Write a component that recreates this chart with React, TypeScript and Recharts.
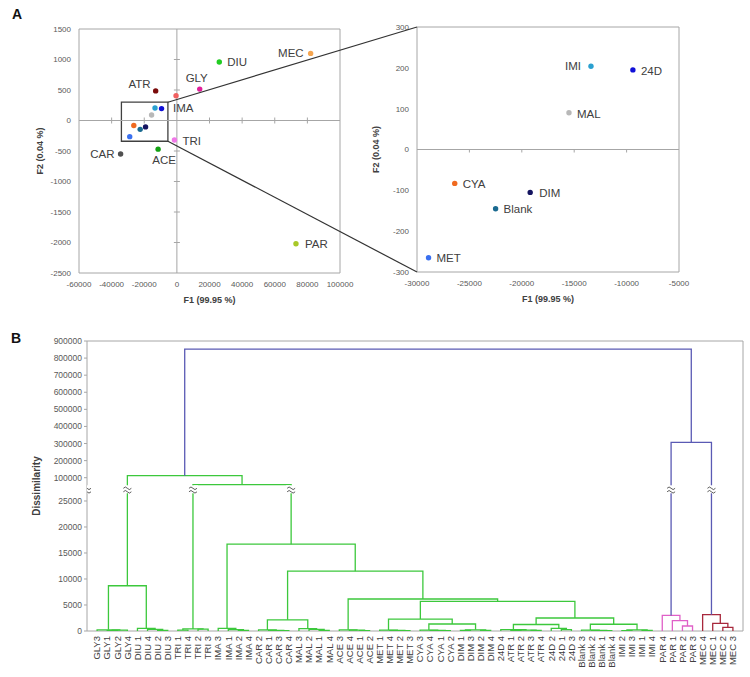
import React from 'react';
import {
  ScatterChart,
  Scatter,
  XAxis,
  YAxis,
  ReferenceLine,
  ReferenceArea,
  ComposedChart,
  Line,
} from 'recharts';

// ---------------- Panel A data ----------------
const PCA_NAMES = ['MEC', 'DIU', 'GLY', 'ATR', 'IMA', 'TRI', 'ACE', 'CAR', 'PAR', 'IMI', '24D', 'MAL', 'CYA', 'DIM', 'Blank', 'MET'];
const PCA_F1 = [82000, 26000, 14000, -13000, -500, -1500, -11500, -34500, 73000, -13400, -9400, -15500, -26400, -19200, -22500, -28900];
const PCA_F2 = [1100, 960, 515, 485, 405, -320, -470, -550, -2020, 204, 195, 90, -83, -105, -145, -265];

const A1_X_TICKS = [-60000, -40000, -20000, 0, 20000, 40000, 60000, 80000, 100000];
const A1_Y_TICKS = [-2500, -2000, -1500, -1000, -500, 0, 500, 1000, 1500];
const A2_X_TICKS = [-30000, -25000, -20000, -15000, -10000, -5000];
const A2_Y_TICKS = [-300, -200, -100, 0, 100, 200, 300];
const ZOOM_BOX_X = [-34000, -5500];
const ZOOM_BOX_Y = [-340, 300];

// ---------------- Panel B data ----------------
const LEAF_LABELS = [
  'GLY3', 'GLY1', 'GLY2', 'GLY4', 'DIU 1', 'DIU 4', 'DIU 2', 'DIU 3',
  'TRI 1', 'TRI 4', 'TRI 2', 'TRI 3', 'IMA 3', 'IMA 1', 'IMA 2', 'IMA 4',
  'CAR 2', 'CAR 1', 'CAR 3', 'CAR 4', 'MAL 3', 'MAL 2', 'MAL 1', 'MAL 4',
  'ACE 3', 'ACE 4', 'ACE 1', 'ACE 2', 'MET 1', 'MET 4', 'MET 2', 'MET 3',
  'CYA 3', 'CYA 4', 'CYA 1', 'CYA 2', 'DIM 1', 'DIM 3', 'DIM 2', 'DIM 4',
  '24D 4', 'ATR 1', 'ATR 2', 'ATR 3', 'ATR 4', '24D 2', '24D 1', '24D 3',
  'Blank 3', 'Blank 2', 'Blank 1', 'Blank 4', 'IMI 2', 'IMI 3', 'IMI 1', 'IMI 4',
  'PAR 4', 'PAR 1', 'PAR 2', 'PAR 3', 'MEC 4', 'MEC 1', 'MEC 2', 'MEC 3',
];

// merges: [childA, childB, dissimilarity, group]; ids >= 64 refer to earlier merges (64 + index)
const MERGES: [number, number, number, string][] = [
  [1, 2, 80, 'g'], [64, 3, 150, 'g'], [0, 65, 220, 'g'],
  [6, 7, 120, 'g'], [5, 67, 300, 'g'], [4, 68, 520, 'g'],
  [66, 69, 8700, 'g'],
  [8, 9, 180, 'g'], [10, 11, 350, 'g'], [71, 72, 400, 'g'],
  [14, 15, 100, 'g'], [13, 74, 250, 'g'], [12, 75, 520, 'g'],
  [18, 19, 60, 'g'], [17, 77, 120, 'g'], [16, 78, 200, 'g'],
  [22, 23, 100, 'g'], [21, 80, 300, 'g'], [20, 81, 450, 'g'],
  [79, 82, 2150, 'g'],
  [26, 27, 80, 'g'], [25, 84, 150, 'g'], [24, 85, 220, 'g'],
  [30, 31, 60, 'g'], [29, 87, 100, 'g'], [28, 88, 170, 'g'],
  [34, 35, 60, 'g'], [33, 90, 120, 'g'], [32, 91, 180, 'g'],
  [36, 37, 100, 'g'], [38, 39, 120, 'g'], [93, 94, 230, 'g'],
  [92, 95, 1350, 'g'], [89, 96, 2300, 'g'],
  [41, 42, 80, 'g'], [43, 44, 100, 'g'], [98, 99, 150, 'g'], [40, 100, 260, 'g'],
  [46, 47, 250, 'g'], [45, 102, 500, 'g'], [101, 103, 1250, 'g'],
  [50, 51, 60, 'g'], [49, 105, 110, 'g'], [48, 106, 170, 'g'],
  [52, 53, 80, 'g'], [54, 55, 100, 'g'], [108, 109, 200, 'g'],
  [107, 110, 1300, 'g'], [104, 111, 2500, 'g'], [97, 112, 5700, 'g'],
  [86, 113, 6150, 'g'], [83, 114, 11500, 'g'], [76, 115, 16700, 'g'],
  [73, 116, 59000, 'g'], [70, 117, 112000, 'g'],
  [58, 59, 960, 'p'], [57, 119, 1980, 'p'], [56, 120, 3000, 'p'],
  [62, 63, 690, 'm'], [61, 122, 1460, 'm'], [60, 123, 3130, 'm'],
  [121, 124, 307000, 'b'], [118, 125, 853000, 'b'],
];

const B_Y_TICKS = [0, 5000, 10000, 15000, 20000, 25000, 100000, 200000, 300000, 400000, 500000, 600000, 700000, 800000, 900000];

// ---------------- styles ----------------
const FONT = '"Liberation Sans", Arial, sans-serif';
const GREY = '#a6a6a6';
const TICK_STYLE = { fontSize: 8, fill: '#595959', fontFamily: FONT };
const AXIS_LABEL_STYLE = { fontSize: 9, fontWeight: 700, fill: '#404040', fontFamily: FONT };

const POINT_COLOR: Record<string, string> = {
  MEC: '#f5a550', DIU: '#22cc22', GLY: '#e0209a', ATR: '#7a0a0a', IMA: '#f06060',
  TRI: '#f078e8', ACE: '#12a012', CAR: '#505050', PAR: '#a8c828', IMI: '#2aa0d0',
  '24D': '#1010d8', MAL: '#b8b8b8', CYA: '#f06a20', DIM: '#141460', Blank: '#1a6a90', MET: '#3a70f0',
};

const LABEL_PLACEMENT: Record<string, { dx: number; dy: number; anchor: string }> = {
  MEC: { dx: -7, dy: 4, anchor: 'end' },
  DIU: { dx: 8, dy: 4, anchor: 'start' },
  GLY: { dx: -3, dy: -7, anchor: 'middle' },
  ATR: { dx: -5, dy: -3, anchor: 'end' },
  IMA: { dx: -3, dy: 16, anchor: 'start' },
  TRI: { dx: 8, dy: 5, anchor: 'start' },
  ACE: { dx: 6, dy: 15, anchor: 'middle' },
  CAR: { dx: -6, dy: 4, anchor: 'end' },
  PAR: { dx: 9, dy: 4, anchor: 'start' },
  IMI: { dx: -10, dy: 4, anchor: 'end' },
  '24D': { dx: 8, dy: 5, anchor: 'start' },
  MAL: { dx: 8, dy: 5, anchor: 'start' },
  CYA: { dx: 8, dy: 5, anchor: 'start' },
  DIM: { dx: 9, dy: 5, anchor: 'start' },
  Blank: { dx: 8, dy: 4, anchor: 'start' },
  MET: { dx: 8, dy: 4, anchor: 'start' },
};

const GROUP_COLOR: Record<string, string> = { g: '#3cc83c', p: '#e060c8', m: '#a8283c', b: '#5a5ab4' };

// ---------------- layout ----------------
const A1 = { left: 0, top: 0, w: 370, h: 320, m: { top: 29, right: 30, bottom: 13, left: 35 }, yw: 44, xh: 34 };
const A2 = { left: 370, top: 0, w: 380, h: 320, m: { top: 27, right: 71, bottom: 14, left: 3 }, yw: 44, xh: 34 };
const B = { left: 0, top: 330, w: 750, h: 347, m: { top: 11, right: 7, bottom: 6, left: 17 }, yw: 70, xh: 40 };

const A1_DOMAIN = { x: [-60000, 100000], y: [-2500, 1500] };
const A2_DOMAIN = { x: [-30000, -5000], y: [-300, 300] };

function toPixel(c: typeof A1, d: typeof A1_DOMAIN, x: number, y: number) {
  const pl = c.left + c.m.left + c.yw;
  const pr = c.left + c.w - c.m.right;
  const pt = c.top + c.m.top;
  const pb = c.top + c.h - c.m.bottom - c.xh;
  return [
    pl + ((x - d.x[0]) / (d.x[1] - d.x[0])) * (pr - pl),
    pt + ((d.y[1] - y) / (d.y[1] - d.y[0])) * (pb - pt),
  ];
}

// ---------------- derived data ----------------
const POINTS = PCA_NAMES.map((name, i) => ({ name, x: PCA_F1[i], y: PCA_F2[i] }));
const inA2 = (p: { x: number; y: number }) =>
  p.x >= A2_DOMAIN.x[0] && p.x <= A2_DOMAIN.x[1] && p.y >= A2_DOMAIN.y[0] && p.y <= A2_DOMAIN.y[1];
const A2_POINTS = POINTS.filter(inA2);

const A1_XMARKS = A1_X_TICKS.filter((t) => t !== 0 && t !== A1_DOMAIN.x[0] && t !== A1_DOMAIN.x[1]).map((x) => ({ x, y: 0 }));
const A1_YMARKS = A1_Y_TICKS.filter((t) => t !== 0 && t !== A1_DOMAIN.y[0] && t !== A1_DOMAIN.y[1]).map((y) => ({ x: 0, y }));
const A2_XMARKS = A2_X_TICKS.filter((t) => t !== A2_DOMAIN.x[0] && t !== A2_DOMAIN.x[1]).map((x) => ({ x, y: 0 }));
const A2_YMARKS = A2_Y_TICKS.filter((t) => t !== 0 && t !== A2_DOMAIN.y[0] && t !== A2_DOMAIN.y[1]).map((y) => ({ x: A2_DOMAIN.x[1], y }));

// broken axis: lower segment linear 0..LOWER_MAX, upper segment compressed
const LOWER_MAX = 27300;
const UPPER_REF = 100000;
const UPPER_REF_D = 29481;
const UPPER_SLOPE = 0.03286;
const disp = (v: number) => (v <= LOWER_MAX ? v : UPPER_REF_D + (v - UPPER_REF) * UPPER_SLOPE);
const B_YMAX = disp(900000);
const B_YTICK_D = B_Y_TICKS.map(disp);
const BREAK_D = 27250;

const nodeX: number[] = LEAF_LABELS.map((_, i) => i);
const nodeH: number[] = LEAF_LABELS.map(() => 0);
MERGES.forEach(([a, b, h]) => {
  nodeX.push((nodeX[a] + nodeX[b]) / 2);
  nodeH.push(h);
});
const LINKS = MERGES.map(([a, b, h, g]) => ({
  color: GROUP_COLOR[g],
  pts: [
    { x: nodeX[a], y: disp(nodeH[a]) },
    { x: nodeX[a], y: disp(h) },
    { x: nodeX[b], y: disp(h) },
    { x: nodeX[b], y: disp(nodeH[b]) },
  ],
}));
const BREAKS: { x: number; y: number }[] = [{ x: -1, y: BREAK_D }];
MERGES.forEach(([a, b, h]) => {
  [a, b].forEach((c) => {
    if (h > 28000 && nodeH[c] < LOWER_MAX) BREAKS.push({ x: nodeX[c], y: BREAK_D });
  });
});
const LEAF_TICKS = LEAF_LABELS.map((_, i) => i);

// ---------------- shapes ----------------
const vTick = (p: any) => <line x1={p.cx} x2={p.cx} y1={p.cy - 3} y2={p.cy + 3} stroke={GREY} strokeWidth={1} />;
const hTick = (p: any) => <line x1={p.cx - 3} x2={p.cx + 3} y1={p.cy} y2={p.cy} stroke={GREY} strokeWidth={1} />;
const vTickDown = (p: any) => <line x1={p.cx} x2={p.cx} y1={p.cy} y2={p.cy + 3} stroke={GREY} strokeWidth={1} />;
const hTickRight = (p: any) => <line x1={p.cx} x2={p.cx + 5} y1={p.cy} y2={p.cy} stroke={GREY} strokeWidth={1} />;

const makePointShape = (showLabel: (n: string) => boolean) => (p: any) => {
  const { cx, cy, payload } = p;
  const lp = LABEL_PLACEMENT[payload.name];
  return (
    <g>
      <circle cx={cx} cy={cy} r={2.7} fill={POINT_COLOR[payload.name]} />
      {showLabel(payload.name) && lp ? (
        <text x={cx + lp.dx} y={cy + lp.dy} textAnchor={lp.anchor as any} fontSize={11.5} fill="#404040" fontFamily={FONT}>
          {payload.name}
        </text>
      ) : null}
    </g>
  );
};
const A1_SHAPE = makePointShape((n) => !A2_POINTS.some((p) => p.name === n));
const A2_SHAPE = makePointShape(() => true);

const BreakMark = (p: any) => {
  const { cx, cy } = p;
  return (
    <g>
      <rect x={cx - 5} y={cy - 4} width={10} height={8} fill="#fff" />
      <path d={`M${cx - 4},${cy - 1} q2,-2.6 4,0 t4,0`} fill="none" stroke="#333" strokeWidth={0.8} />
      <path d={`M${cx - 4},${cy + 2.5} q2,-2.6 4,0 t4,0`} fill="none" stroke="#333" strokeWidth={0.8} />
    </g>
  );
};

const LeafTick = (p: any) => {
  const { x, y, payload } = p;
  return (
    <text x={x} y={y} transform={`rotate(-90 ${x} ${y})`} textAnchor="end" dy={3.3} fontSize={9.5} fill="#404040" fontFamily={FONT}>
      {LEAF_LABELS[payload.value]}
    </text>
  );
};

const fmtB = (dv: number) => {
  const i = B_YTICK_D.findIndex((t) => Math.abs(t - dv) < 1e-6);
  return i >= 0 ? String(B_Y_TICKS[i]) : '';
};

export default function App() {
  const [bx1, by1] = toPixel(A1, A1_DOMAIN, ZOOM_BOX_X[1], ZOOM_BOX_Y[1]);
  const [bx2, by2] = toPixel(A1, A1_DOMAIN, ZOOM_BOX_X[1], ZOOM_BOX_Y[0]);
  const [rx1, ry1] = toPixel(A2, A2_DOMAIN, A2_DOMAIN.x[0], A2_DOMAIN.y[1]);
  const [rx2, ry2] = toPixel(A2, A2_DOMAIN, A2_DOMAIN.x[0], A2_DOMAIN.y[0]);

  return (
    <div style={{ position: 'absolute', left: 0, top: 0, width: 750, height: 677, background: '#fff', fontFamily: FONT }}>
      {/* Panel A left */}
      <div style={{ position: 'absolute', left: A1.left, top: A1.top }}>
        <ScatterChart width={A1.w} height={A1.h} margin={A1.m}>
          <XAxis type="number" dataKey="x" domain={A1_DOMAIN.x} ticks={A1_X_TICKS} interval={0} allowDataOverflow
            axisLine={false} tickLine={false} tick={TICK_STYLE} height={A1.xh}
            label={{ value: 'F1 (99.95 %)', position: 'insideBottom', offset: 4, style: AXIS_LABEL_STYLE }} />
          <YAxis type="number" dataKey="y" domain={A1_DOMAIN.y} ticks={A1_Y_TICKS} interval={0} allowDataOverflow
            axisLine={false} tickLine={false} tick={TICK_STYLE} width={A1.yw}
            label={{ value: 'F2 (0.04 %)', angle: -90, position: 'insideLeft', offset: 5, style: { ...AXIS_LABEL_STYLE, textAnchor: 'middle' } }} />
          <ReferenceArea x1={A1_DOMAIN.x[0]} x2={A1_DOMAIN.x[1]} y1={A1_DOMAIN.y[0]} y2={A1_DOMAIN.y[1]} fill="none" stroke={GREY} fillOpacity={0} />
          <ReferenceLine x={0} stroke={GREY} />
          <ReferenceLine y={0} stroke={GREY} />
          <Scatter data={A1_XMARKS} shape={vTick} isAnimationActive={false} />
          <Scatter data={A1_YMARKS} shape={hTick} isAnimationActive={false} />
          <ReferenceArea x1={ZOOM_BOX_X[0]} x2={ZOOM_BOX_X[1]} y1={ZOOM_BOX_Y[0]} y2={ZOOM_BOX_Y[1]} fill="none" fillOpacity={0} stroke="#404040" strokeWidth={1.3} />
          <Scatter data={POINTS} shape={A1_SHAPE} isAnimationActive={false} />
        </ScatterChart>
      </div>

      {/* Panel A right (zoom) */}
      <div style={{ position: 'absolute', left: A2.left, top: A2.top }}>
        <ScatterChart width={A2.w} height={A2.h} margin={A2.m}>
          <XAxis type="number" dataKey="x" domain={A2_DOMAIN.x} ticks={A2_X_TICKS} interval={0} allowDataOverflow
            axisLine={false} tickLine={false} tick={TICK_STYLE} height={A2.xh}
            label={{ value: 'F1 (99.95 %)', position: 'insideBottom', offset: 4, style: AXIS_LABEL_STYLE }} />
          <YAxis type="number" dataKey="y" domain={A2_DOMAIN.y} ticks={A2_Y_TICKS} interval={0} allowDataOverflow
            axisLine={false} tickLine={false} tick={TICK_STYLE} width={A2.yw}
            label={{ value: 'F2 (0.04 %)', angle: -90, position: 'insideLeft', offset: 3, style: { ...AXIS_LABEL_STYLE, textAnchor: 'middle' } }} />
          <ReferenceArea x1={A2_DOMAIN.x[0]} x2={A2_DOMAIN.x[1]} y1={A2_DOMAIN.y[0]} y2={A2_DOMAIN.y[1]} fill="none" fillOpacity={0} stroke={GREY} />
          <ReferenceLine y={0} stroke={GREY} />
          <Scatter data={A2_XMARKS} shape={vTickDown} isAnimationActive={false} />
          <Scatter data={A2_YMARKS} shape={hTickRight} isAnimationActive={false} />
          <Scatter data={A2_POINTS} shape={A2_SHAPE} isAnimationActive={false} />
        </ScatterChart>
      </div>

      {/* Panel B dendrogram */}
      <div style={{ position: 'absolute', left: B.left, top: B.top }}>
        <ComposedChart width={B.w} height={B.h} margin={B.m}>
          <XAxis type="number" dataKey="x" domain={[-1, LEAF_LABELS.length]} ticks={LEAF_TICKS} interval={0} allowDataOverflow
            axisLine={false} tickLine={false} tickSize={0} tickMargin={5} tick={LeafTick} height={B.xh} />
          <YAxis type="number" dataKey="y" domain={[0, B_YMAX]} ticks={B_YTICK_D} interval={0} allowDataOverflow
            axisLine={false} tickLine={{ stroke: GREY }} tickSize={3} tickMargin={2} tickFormatter={fmtB}
            tick={{ ...TICK_STYLE, fontSize: 8.5 }} width={B.yw}
            label={{ value: 'Dissimilarity', angle: -90, position: 'insideLeft', offset: 19, style: { fontSize: 10, fontWeight: 700, fill: '#404040', fontFamily: FONT, textAnchor: 'middle' } }} />
          <ReferenceArea x1={-1} x2={LEAF_LABELS.length} y1={0} y2={B_YMAX} fill="none" fillOpacity={0} stroke={GREY} />
          {LINKS.map((l, i) => (
            <Line key={i} data={l.pts} dataKey="y" type="linear" stroke={l.color} strokeWidth={1.3}
              dot={false} activeDot={false} isAnimationActive={false} />
          ))}
          <Scatter data={BREAKS} shape={BreakMark} isAnimationActive={false} />
        </ComposedChart>
      </div>

      {/* connectors and panel letters */}
      <svg width={750} height={677} style={{ position: 'absolute', left: 0, top: 0, pointerEvents: 'none' }}>
        <line x1={bx1} y1={by1} x2={rx1} y2={ry1} stroke="#333" strokeWidth={1.2} />
        <line x1={bx2} y1={by2} x2={rx2} y2={ry2} stroke="#333" strokeWidth={1.2} />
        <text x={12} y={19} fontSize={14} fontWeight={700} fill="#111" fontFamily={FONT}>A</text>
        <text x={11} y={343} fontSize={14} fontWeight={700} fill="#111" fontFamily={FONT}>B</text>
      </svg>
    </div>
  );
}
